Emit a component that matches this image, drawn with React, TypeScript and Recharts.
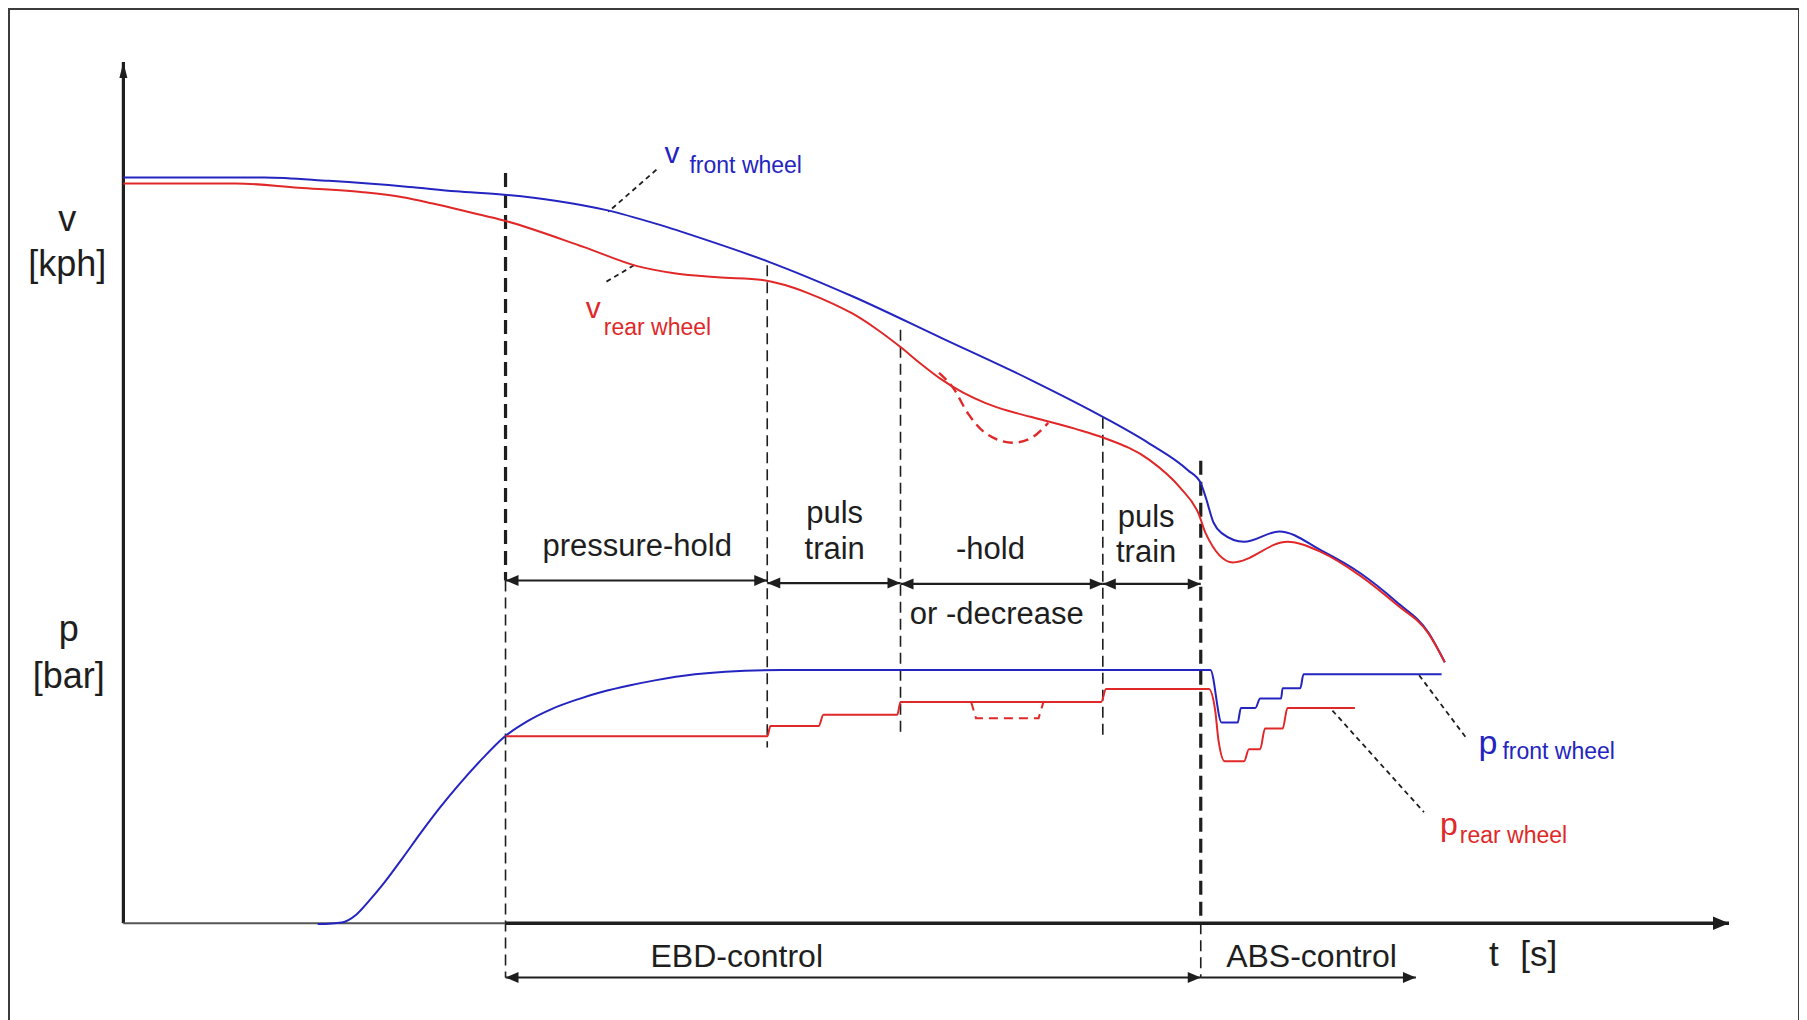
import { LineChart, Line, XAxis, YAxis, ReferenceLine, ReferenceDot } from 'recharts';

const BLUE = '#2424c0';
const RED = '#e02828';
const INK = '#1e1e1e';
const FONT = '"Liberation Sans", Arial, Helvetica, sans-serif';

// phase boundaries on the (unitless) time axis
const tEbd = 23.8;
const tPuls1 = 40.1;
const tHold = 48.4;
const tPuls2 = 61.0;
const tAbs = 67.1;
const tAbsEnd = 80.5;
const tEnd = 100;

// wheel speeds
const vFront = [
  { t: 0, y: 86.6 }, { t: 8.8, y: 86.6 }, { t: 12.8, y: 86.2 }, { t: 17.8, y: 85.5 },
  { t: 20.7, y: 85.0 }, { t: 23.7, y: 84.6 }, { t: 26.9, y: 83.9 }, { t: 30.1, y: 82.8 },
  { t: 33.2, y: 81.2 }, { t: 36.2, y: 79.4 }, { t: 40.2, y: 76.8 }, { t: 45.4, y: 72.8 },
  { t: 50.9, y: 68.0 }, { t: 56.5, y: 63.1 }, { t: 61.0, y: 58.8 }, { t: 63.9, y: 55.7 },
  { t: 66.3, y: 52.6 }, { t: 67.1, y: 51.1 }, { t: 67.4, y: 49.5 }, { t: 67.9, y: 46.5 },
  { t: 68.4, y: 45.3 }, { t: 69.8, y: 44.3 }, { t: 72.0, y: 45.5 }, { t: 74.6, y: 43.3 },
  { t: 77.0, y: 40.7 }, { t: 79.3, y: 37.3 }, { t: 81.3, y: 33.7 }, { t: 82.3, y: 30.3 },
];

const vRear = [
  { t: 0, y: 85.9 }, { t: 7.0, y: 85.9 }, { t: 10.9, y: 85.4 }, { t: 14.8, y: 84.9 },
  { t: 17.4, y: 84.3 }, { t: 19.2, y: 83.6 }, { t: 21.7, y: 82.5 }, { t: 23.7, y: 81.6 },
  { t: 28.7, y: 78.5 }, { t: 32.0, y: 76.3 }, { t: 34.2, y: 75.5 }, { t: 37.0, y: 75.0 },
  { t: 39.8, y: 74.7 }, { t: 41.2, y: 74.1 }, { t: 42.6, y: 73.2 }, { t: 44.0, y: 72.1 },
  { t: 45.4, y: 70.8 }, { t: 46.9, y: 69.0 }, { t: 48.4, y: 66.9 }, { t: 49.7, y: 64.9 },
  { t: 50.9, y: 63.2 }, { t: 52.3, y: 61.6 }, { t: 53.7, y: 60.4 }, { t: 55.1, y: 59.5 },
  { t: 56.5, y: 58.8 }, { t: 59.3, y: 57.4 }, { t: 61.0, y: 56.4 }, { t: 63.9, y: 53.8 },
  { t: 65.8, y: 50.6 }, { t: 67.0, y: 47.4 }, { t: 67.4, y: 45.3 }, { t: 69.1, y: 41.9 },
  { t: 72.5, y: 44.3 }, { t: 74.6, y: 43.1 }, { t: 77.0, y: 40.4 }, { t: 79.3, y: 37.0 },
  { t: 81.3, y: 33.6 }, { t: 82.3, y: 30.3 },
];

// alternative rear speed with pressure decrease
const vRearDip = [
  { t: 50.8, y: 63.9 }, { t: 51.7, y: 62.1 }, { t: 52.6, y: 59.2 }, { t: 53.7, y: 56.9 },
  { t: 55.4, y: 55.8 }, { t: 56.5, y: 56.3 }, { t: 57.6, y: 58.1 },
];

// brake pressures
const pFront = [
  { t: 12.1, y: -0.1 }, { t: 13.6, y: 0.1 }, { t: 14.5, y: 1.0 }, { t: 15.3, y: 2.6 },
  { t: 16.2, y: 4.6 }, { t: 17.4, y: 7.6 }, { t: 18.6, y: 10.7 }, { t: 19.7, y: 13.4 },
  { t: 20.9, y: 16.1 }, { t: 22.4, y: 19.2 }, { t: 23.7, y: 21.6 }, { t: 25.2, y: 23.5 },
  { t: 26.7, y: 24.9 }, { t: 28.3, y: 26.0 }, { t: 29.9, y: 26.9 }, { t: 31.5, y: 27.6 },
  { t: 33.1, y: 28.2 }, { t: 35.6, y: 28.9 }, { t: 37.5, y: 29.2 }, { t: 41.0, y: 29.4 },
  { t: 67.7, y: 29.4 }, { t: 68.4, y: 23.3 }, { t: 69.4, y: 23.3 }, { t: 69.6, y: 25.0 },
  { t: 70.5, y: 25.0 }, { t: 70.8, y: 26.1 }, { t: 72.1, y: 26.1 }, { t: 72.2, y: 27.3 },
  { t: 73.3, y: 27.3 }, { t: 73.5, y: 28.9 }, { t: 82.1, y: 28.9 },
];

const pRear = [
  { t: 23.8, y: 21.7 }, { t: 40.1, y: 21.7 }, { t: 40.3, y: 22.9 }, { t: 43.3, y: 22.9 },
  { t: 43.6, y: 24.2 }, { t: 48.2, y: 24.2 }, { t: 48.4, y: 25.7 }, { t: 60.9, y: 25.7 },
  { t: 61.2, y: 27.2 }, { t: 67.6, y: 27.2 }, { t: 68.0, y: 24.7 }, { t: 68.2, y: 21.3 },
  { t: 68.6, y: 18.8 }, { t: 69.8, y: 18.8 }, { t: 70.1, y: 20.2 }, { t: 70.8, y: 20.2 },
  { t: 71.1, y: 22.6 }, { t: 72.2, y: 22.6 }, { t: 72.5, y: 25.0 }, { t: 76.7, y: 25.0 },
];

const pRearDip = [
  { t: 52.8, y: 25.7 }, { t: 53.1, y: 23.8 }, { t: 57.0, y: 23.8 }, { t: 57.3, y: 25.7 },
];

// vertical phase markers
const guides = [
  { t: tEbd, top: 87.1, bottom: 39.8, heavy: true },
  { t: tEbd, top: 39.8, bottom: -6.3, heavy: false },
  { t: tPuls1, top: 76.4, bottom: 20.4, heavy: false },
  { t: tHold, top: 68.9, bottom: 21.8, heavy: false },
  { t: tPuls2, top: 58.7, bottom: 21.6, heavy: false },
  { t: tAbs, top: 53.7, bottom: 0, heavy: true },
  { t: tAbs, top: 0, bottom: -6.3, heavy: false },
];

// dimension arrows between phase markers
const spans = [
  { from: tEbd, to: tPuls1, y: 39.8, start: true },
  { from: tPuls1, to: tHold, y: 39.5, start: true },
  { from: tHold, to: tPuls2, y: 39.4, start: true },
  { from: tPuls2, to: tAbs, y: 39.4, start: true },
  { from: tEbd, to: tAbs, y: -6.3, start: true },
  { from: tAbs, to: tAbsEnd, y: -6.3, start: false },
];

// dashed leaders from labels to curves
const leaders = [
  { t1: 33.2, y1: 87.5, t2: 30.2, y2: 82.6 },
  { t1: 31.8, y1: 76.4, t2: 30.0, y2: 74.4 },
  { t1: 80.7, y1: 28.8, t2: 83.6, y2: 21.6 },
  { t1: 75.3, y1: 24.7, t2: 81.0, y2: 12.9 },
];

const notes = [
  { t: -3.5, y: 80.4, text: 'v', size: 36, anchor: 'middle' },
  { t: -3.5, y: 75.1, text: '[kph]', size: 36, anchor: 'middle' },
  { t: -3.4, y: 32.8, text: 'p', size: 36, anchor: 'middle' },
  { t: -3.4, y: 27.3, text: '[bar]', size: 36, anchor: 'middle' },
  { t: 32.0, y: 42.6, text: 'pressure-hold', size: 31, anchor: 'middle' },
  { t: 44.3, y: 46.5, text: 'puls', size: 31, anchor: 'middle' },
  { t: 44.3, y: 42.3, text: 'train', size: 31, anchor: 'middle' },
  { t: 54.0, y: 42.3, text: '-hold', size: 31, anchor: 'middle' },
  { t: 54.4, y: 34.8, text: 'or -decrease', size: 31, anchor: 'middle' },
  { t: 63.7, y: 46.0, text: 'puls', size: 31, anchor: 'middle' },
  { t: 63.7, y: 41.9, text: 'train', size: 31, anchor: 'middle' },
  { t: 38.2, y: -5.1, text: 'EBD-control', size: 32, anchor: 'middle' },
  { t: 74.0, y: -5.1, text: 'ABS-control', size: 32, anchor: 'middle' },
  { t: 85.05, y: -5.0, text: 't', size: 35, anchor: 'start' },
  { t: 87.0, y: -5.0, text: '[s]', size: 35, anchor: 'start' },
];

const seriesNames = [
  { t: 33.7, y: 88.3, main: 'v', sub: 'front wheel', color: BLUE, size: 30, gap: 10, drop: 10 },
  { t: 28.8, y: 70.3, main: 'v', sub: 'rear wheel', color: RED, size: 30, gap: 3, drop: 17 },
  { t: 84.4, y: 19.6, main: 'p', sub: 'front wheel', color: BLUE, size: 34, gap: 5, drop: 5 },
  { t: 82.0, y: 10.2, main: 'p', sub: 'rear wheel', color: RED, size: 32, gap: 2, drop: 8 },
];

function heads(start: boolean, end: boolean, size = 13) {
  return (p: any) => {
    const { cx, cy, index } = p;
    const first = index === 0;
    if ((first && !start) || (!first && !end)) return <g key={`h${index}`} />;
    const d = first ? -1 : 1;
    const pts = `${cx},${cy} ${cx - d * size},${cy - size * 0.42} ${cx - d * size},${cy + size * 0.42}`;
    return <polygon key={`h${index}`} points={pts} fill={INK} />;
  };
}

const upHead = (p: any) =>
  p.index === 1 ? (
    <polygon key="up" points={`${p.cx},${p.cy} ${p.cx - 4},${p.cy + 16} ${p.cx + 4},${p.cy + 16}`} fill={INK} />
  ) : (
    <g key="up0" />
  );

export default function App() {
  return (
    <div
      style={{
        position: 'relative',
        width: 1792,
        height: 1040,
        boxSizing: 'border-box',
        borderTop: '2px solid #3c3c3c',
        borderLeft: '2px solid #3c3c3c',
        borderRight: '2px solid #3c3c3c',
        background: '#fff',
      }}
    >
      <LineChart width={1788} height={1010} margin={{ top: 52, right: 69, bottom: 2, left: 1 }}>
        <XAxis type="number" dataKey="t" domain={[-7, tEnd]} hide allowDataOverflow />
        <YAxis type="number" dataKey="y" domain={[-11, 100]} hide allowDataOverflow />

        {guides.map((g, i) => (
          <ReferenceLine
            key={`g${i}`}
            segment={[{ x: g.t, y: g.top }, { x: g.t, y: g.bottom }]}
            stroke={INK}
            strokeWidth={g.heavy ? 3.2 : 1.6}
            strokeDasharray={g.heavy ? '14 7' : '11 6'}
          />
        ))}
        {leaders.map((l, i) => (
          <ReferenceLine
            key={`l${i}`}
            segment={[{ x: l.t1, y: l.y1 }, { x: l.t2, y: l.y2 }]}
            stroke={INK}
            strokeWidth={1.8}
            strokeDasharray="5 4"
          />
        ))}

        {/* axes */}
        <Line data={[{ t: 0, y: 0 }, { t: 0, y: 100 }]} dataKey="y" type="linear" stroke={INK} strokeWidth={3.2} dot={upHead} isAnimationActive={false} />
        <Line data={[{ t: 0, y: 0 }, { t: tEbd, y: 0 }]} dataKey="y" type="linear" stroke="#555" strokeWidth={2} dot={false} isAnimationActive={false} />
        <Line data={[{ t: tEbd, y: 0 }, { t: tEnd, y: 0 }]} dataKey="y" type="linear" stroke={INK} strokeWidth={3.6} dot={heads(false, true, 16)} isAnimationActive={false} />

        {spans.map((s, i) => (
          <Line
            key={`s${i}`}
            data={[{ t: s.from, y: s.y }, { t: s.to, y: s.y }]}
            dataKey="y"
            type="linear"
            stroke={INK}
            strokeWidth={2.2}
            dot={heads(s.start, true)}
            isAnimationActive={false}
          />
        ))}

        {/* pressures */}
        <Line data={pFront} dataKey="y" type="monotone" stroke={BLUE} strokeWidth={2} dot={false} isAnimationActive={false} />
        <Line data={pRear} dataKey="y" type="monotone" stroke={RED} strokeWidth={2} dot={false} isAnimationActive={false} />
        <Line data={pRearDip} dataKey="y" type="linear" stroke={RED} strokeWidth={2} strokeDasharray="9 6" dot={false} isAnimationActive={false} />

        {/* speeds */}
        <Line data={vFront} dataKey="y" type="monotone" stroke={BLUE} strokeWidth={2} dot={false} isAnimationActive={false} />
        <Line data={vRear} dataKey="y" type="monotone" stroke={RED} strokeWidth={2} dot={false} isAnimationActive={false} />
        <Line data={vRearDip} dataKey="y" type="monotone" stroke={RED} strokeWidth={2.4} strokeDasharray="10 6" dot={false} isAnimationActive={false} />

        {notes.map((n, i) => (
          <ReferenceDot
            key={`n${i}`}
            x={n.t}
            y={n.y}
            r={0}
            shape={(p: any) => (
              <text x={p.cx} y={p.cy} fontSize={n.size} fontFamily={FONT} fill={INK} textAnchor={n.anchor as any}>
                {n.text}
              </text>
            )}
          />
        ))}
        {seriesNames.map((s, i) => (
          <ReferenceDot
            key={`sn${i}`}
            x={s.t}
            y={s.y}
            r={0}
            shape={(p: any) => (
              <text x={p.cx} y={p.cy} fontFamily={FONT} fill={s.color}>
                <tspan fontSize={s.size}>{s.main}</tspan>
                <tspan fontSize={23} dx={s.gap} dy={s.drop}>
                  {s.sub}
                </tspan>
              </text>
            )}
          />
        ))}
      </LineChart>
    </div>
  );
}
